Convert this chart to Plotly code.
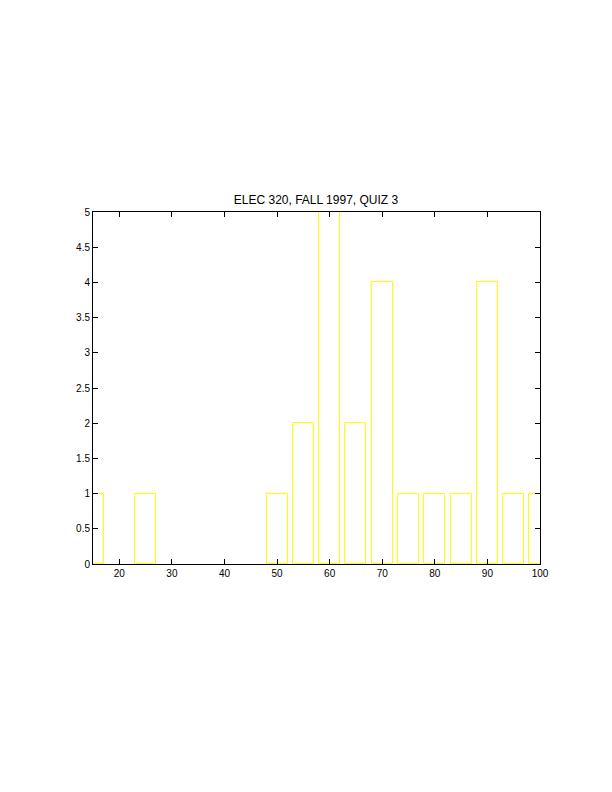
import plotly.graph_objects as go

bin_centers = [15, 25, 50, 55, 60, 65, 70, 75, 80, 85, 90, 95, 100]
counts = [1, 1, 1, 2, 5, 2, 4, 1, 1, 1, 4, 1, 1]
x_ticks = [20, 30, 40, 50, 60, 70, 80, 90, 100]
y_ticks = [0, 0.5, 1, 1.5, 2, 2.5, 3, 3.5, 4, 4.5, 5]
y_labels = ["0", "0.5", "1", "1.5", "2", "2.5", "3", "3.5", "4", "4.5", "5"]
title = "ELEC 320, FALL 1997, QUIZ 3"

fig = go.Figure()
fig.add_trace(go.Bar(
    x=bin_centers, y=counts, width=4,
    marker=dict(color="rgba(0,0,0,0)", line=dict(color="#ffff00", width=1)),
))

font = dict(family="Liberation Sans, Helvetica, Arial", size=10, color="black")
fig.update_layout(
    width=612, height=792,
    margin=dict(l=85, r=80, t=204, b=236),
    paper_bgcolor="white", plot_bgcolor="white",
    showlegend=False,
    font=font,
    title=dict(text=title, x=(316 - 8) / 612, xanchor="center", y=1 - 192 / 792, yanchor="middle",
               font=dict(family="Liberation Sans, Helvetica, Arial", size=12, color="black")),
    bargap=0,
)
fig.update_xaxes(range=[15, 100], tickvals=x_ticks, ticks="inside", ticklen=5,
                 tickcolor="black", showline=True, linecolor="black", linewidth=1,
                 mirror="ticks", showgrid=False, zeroline=False, fixedrange=True)
fig.update_yaxes(range=[0, 5], tickvals=y_ticks, ticktext=y_labels, ticks="inside", ticklen=5,
                 tickcolor="black", showline=True, linecolor="black", linewidth=1,
                 mirror="ticks", showgrid=False, zeroline=False, fixedrange=True)

fig.write_html("out.html")
